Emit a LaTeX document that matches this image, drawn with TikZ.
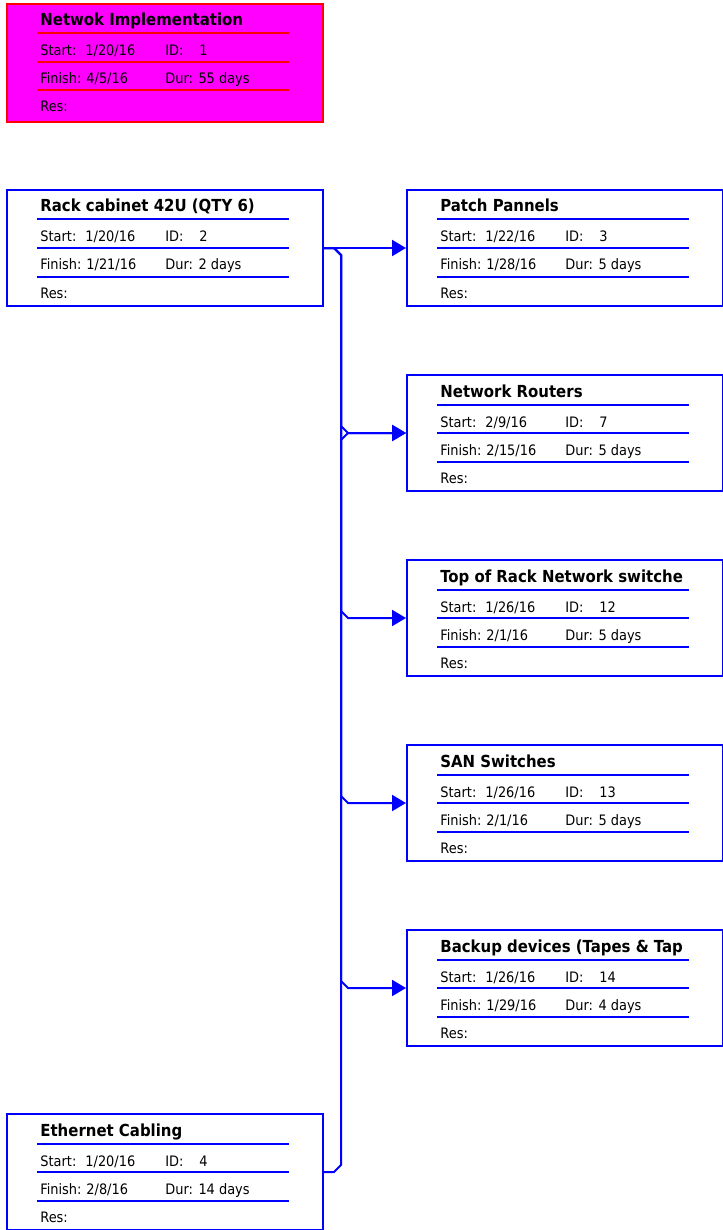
\documentclass[tikz,border=0pt]{standalone}
\usepackage{fontspec}
\setmainfont{DejaVu Sans Condensed}
\usetikzlibrary{arrows.meta,calc}
\definecolor{linkblue}{RGB}{0,0,255}
\definecolor{summag}{RGB}{255,0,255}
\tikzset{
	task/.style={draw=linkblue},
	sumtask/.style={draw=red, fill=summag, minimum height=59pt},
	box/.style={rectangle, line width=1pt, inner sep=0pt, minimum width=158pt, minimum height=58pt},
	rule/.style={line width=1pt},
	ttl/.style={anchor=base west, inner sep=0pt, font=\bfseries\fontsize{8.3}{10}\selectfont},
	fld/.style={anchor=base west, inner sep=0pt, font=\fontsize{7.2}{8}\selectfont},
	link/.style={draw=linkblue, line width=1pt},
	arr/.style={-{Triangle[length=7pt,width=8pt]}}
}
% name, x, y, look, title, start, id, finish, dur
\newcommand{\taskbox}[9]{%
	\begin{scope}[shift={(#2,#3)}]
		\node[box,#4,anchor=north west] (#1) at (0,0) {};
		\begin{scope}
			\clip (31,0) rectangle (283,30);
			\node[ttl] (#1-t) at (34,23) {#5};
		\end{scope}
		\draw[rule,#4] (31,30.5) -- (283,30.5);
		\node[fld] (#1-s) at (34,53) {Start:};
		\node[fld] (#1-sv) at (79,53) {#6};
		\node[fld] (#1-i) at (159,53) {ID:};
		\node[fld] (#1-iv) at (193,53) {#7};
		\draw[rule,#4] (31,59) -- (283,59);
		\node[fld] (#1-f) at (34,81) {Finish:};
		\node[fld] (#1-fv) at (80,81) {#8};
		\node[fld] (#1-d) at (159,81) {Dur: #9};
		\draw[rule,#4] (31,87.5) -- (283,87.5);
		\node[fld] (#1-r) at (34,109) {Res:};
	\end{scope}}

\begin{document}
\begin{tikzpicture}[x=0.5pt,y=-0.5pt]
	\useasboundingbox (0,0) rectangle (722,1230);

	%% summary task
	\taskbox{net}{6}{3}{sumtask}{Netwok Implementation}{1/20/16}{1}{4/5/16}{55 days}

	%% left column
	\taskbox{rack}{6}{189}{task}{Rack cabinet 42U (QTY 6)}{1/20/16}{2}{1/21/16}{2 days}
	\taskbox{ether}{6}{1113}{task}{Ethernet Cabling}{1/20/16}{4}{2/8/16}{14 days}

	%% right column
	\taskbox{patch}{406}{189}{task}{Patch Pannels}{1/22/16}{3}{1/28/16}{5 days}
	\taskbox{routers}{406}{374}{task}{Network Routers}{2/9/16}{7}{2/15/16}{5 days}
	\taskbox{top}{406}{559}{task}{Top of Rack Network switche}{1/26/16}{12}{2/1/16}{5 days}
	\taskbox{san}{406}{744}{task}{SAN Switches}{1/26/16}{13}{2/1/16}{5 days}
	\taskbox{backup}{406}{929}{task}{Backup devices (Tapes \& Tap}{1/26/16}{14}{1/29/16}{4 days}

	%% links
	\coordinate (bus) at (341,0);
	\draw[link,arr] (rack.east) -- (patch.west);
	\foreach \t in {routers,top,san,backup}
		\draw[link,arr] (rack.east) -- ($(bus |- rack.east)+(-7,0)$) -- ($(bus |- rack.east)+(0,7)$)
			-- ($(bus |- \t.west)+(0,-7)$) -- ($(bus |- \t.west)+(7,0)$) -- (\t.west);
	\draw[link,arr] (ether.east) -- ($(bus |- ether.east)+(-7,0)$) -- ($(bus |- ether.east)+(0,-7)$)
		-- ($(bus |- routers.west)+(0,7)$) -- ($(bus |- routers.west)+(7,0)$) -- (routers.west);
\end{tikzpicture}
\end{document}
